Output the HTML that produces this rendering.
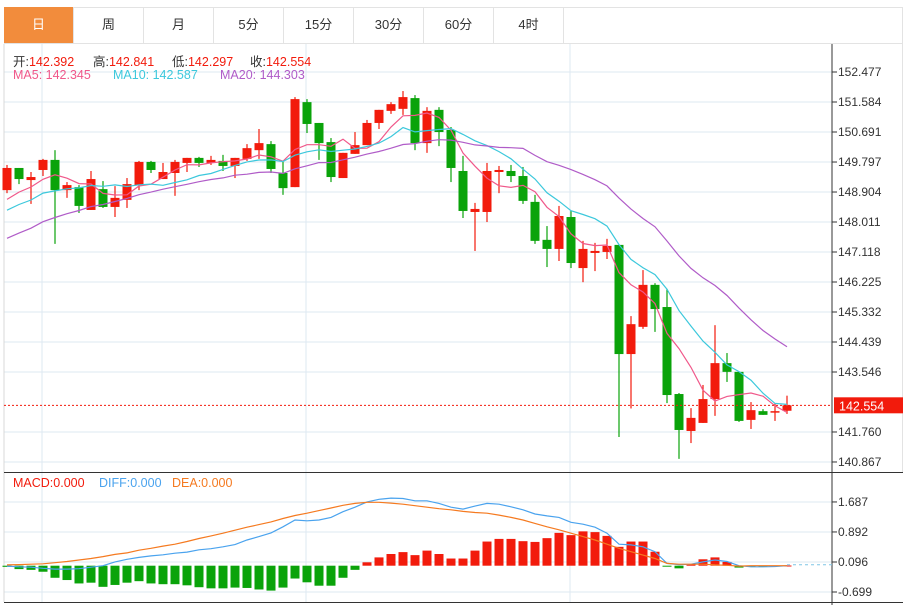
<!DOCTYPE html>
<html><head><meta charset="utf-8">
<style>
body{margin:0;background:#fff;font-family:"Liberation Sans","Noto Sans CJK SC",sans-serif;}
#wrap{position:relative;width:908px;height:605px;overflow:hidden;}
.tab{position:absolute;top:7px;height:36px;width:70px;line-height:36px;text-align:center;font-size:13px;color:#333;border-right:1px solid #e3e3e3;box-sizing:border-box;}
.tab.on{background:#f28c3c;color:#fff;}
.lg{position:absolute;font-size:12.5px;white-space:nowrap;}
</style></head>
<body>
<div id="wrap">
<div style="position:absolute;left:4px;top:7px;width:899px;height:37px;border:1px solid #e3e3e3;box-sizing:border-box;"></div>
<div class="tab on" style="left:4px">日</div>
<div class="tab" style="left:74px">周</div>
<div class="tab" style="left:144px">月</div>
<div class="tab" style="left:214px">5分</div>
<div class="tab" style="left:284px">15分</div>
<div class="tab" style="left:354px">30分</div>
<div class="tab" style="left:424px">60分</div>
<div class="tab" style="left:494px">4时</div>
<svg id="svg" width="908" height="605" style="position:absolute;left:0;top:0"></svg>
</div>
<script>
const opens=[148.96,149.62,149.26,149.56,149.86,148.96,149.05,148.37,148.99,148.46,148.67,149.11,149.80,149.29,149.47,149.77,149.92,149.77,149.83,149.68,149.89,150.15,150.33,149.47,149.05,151.58,150.96,150.39,149.32,150.04,150.30,150.96,151.32,151.38,151.70,150.36,151.35,150.75,149.53,148.31,148.31,149.50,149.53,149.38,148.61,147.48,147.21,148.16,146.64,147.09,147.12,147.33,144.08,144.89,146.14,145.48,142.89,141.79,142.03,142.74,143.81,143.55,142.12,142.38,142.35,142.392];
const highs=[149.71,149.62,149.50,149.89,150.15,149.20,149.11,149.53,149.23,149.08,149.32,149.83,149.83,149.77,149.86,149.92,149.95,149.98,150.01,149.92,150.33,150.78,150.42,149.80,151.73,151.67,150.96,150.51,150.07,150.69,151.05,151.35,151.58,151.91,151.79,151.43,151.43,150.84,149.98,148.58,149.77,149.68,149.71,149.65,148.82,147.89,148.49,148.34,147.45,147.39,147.51,147.33,145.21,146.58,146.19,146.02,142.92,142.47,143.16,144.94,144.11,143.55,142.65,142.44,142.62,142.841];
const lows=[148.87,149.14,148.55,149.38,147.36,148.73,148.28,148.37,148.43,148.16,148.43,148.96,149.47,149.29,148.79,149.50,149.65,149.71,149.53,149.32,149.83,149.89,149.47,148.82,149.05,150.66,149.86,149.20,149.32,150.04,150.30,150.78,151.23,151.20,150.15,150.07,150.27,149.20,148.13,147.15,148.01,148.87,149.20,148.55,147.36,146.67,146.85,146.64,146.22,146.55,146.91,141.61,142.46,144.83,144.74,142.62,140.96,141.43,142.03,142.24,143.25,142.06,141.85,142.27,142.09,142.297];
const closes=[149.62,149.29,149.35,149.86,148.96,149.11,148.49,149.29,148.46,148.73,149.14,149.80,149.56,149.50,149.80,149.92,149.77,149.86,149.68,149.92,150.21,150.36,149.59,149.02,151.67,150.93,150.36,149.35,150.07,150.30,150.96,151.35,151.52,151.73,150.36,151.32,150.69,149.62,148.34,148.40,149.53,149.56,149.38,148.64,147.45,147.21,148.19,146.79,147.21,147.15,147.30,144.08,144.97,146.14,145.42,142.86,141.82,142.18,142.74,143.81,143.55,142.09,142.41,142.27,142.38,142.554];
const priorCloses=[146.2,146.4,146.0,146.5,146.8,146.6,147.0,147.2,146.9,147.3,147.6,148.0,147.8,148.3,148.5,148.2,148.6,148.7,148.3];
const priceTicks=[152.477,151.584,150.691,149.797,148.904,148.011,147.118,146.225,145.332,144.439,143.546,141.760,140.867];
const macdHist=[-0.03,-0.09,-0.11,-0.16,-0.32,-0.38,-0.47,-0.45,-0.56,-0.51,-0.45,-0.41,-0.47,-0.49,-0.49,-0.52,-0.57,-0.60,-0.60,-0.58,-0.59,-0.63,-0.66,-0.58,-0.34,-0.44,-0.53,-0.53,-0.32,-0.11,0.09,0.22,0.31,0.36,0.28,0.40,0.31,0.19,0.19,0.40,0.64,0.71,0.71,0.65,0.63,0.73,0.87,0.81,0.91,0.89,0.79,0.50,0.64,0.64,0.37,-0.01,-0.07,0.04,0.17,0.22,0.10,-0.05,-0.03,-0.02,0.005,0.005];
const diffLine=[-0.01,-0.03,-0.04,-0.07,-0.09,-0.09,-0.08,-0.04,0,0.10,0.17,0.22,0.26,0.29,0.33,0.36,0.42,0.45,0.50,0.56,0.68,0.77,0.87,1.03,1.21,1.19,1.21,1.28,1.43,1.55,1.69,1.76,1.79,1.78,1.72,1.72,1.65,1.55,1.50,1.58,1.65,1.63,1.56,1.48,1.37,1.32,1.28,1.15,1.10,1.02,0.86,0.57,0.55,0.50,0.37,0.06,0.03,0.04,0.10,0.15,0.11,0,-0.03,-0.03,-0.02,0];
const deaLine=[0.02,0.03,0.04,0.05,0.08,0.11,0.15,0.19,0.24,0.30,0.34,0.41,0.46,0.52,0.57,0.64,0.72,0.79,0.86,0.94,1.02,1.09,1.16,1.25,1.33,1.39,1.46,1.53,1.60,1.65,1.68,1.68,1.66,1.63,1.59,1.55,1.51,1.48,1.44,1.41,1.39,1.34,1.28,1.21,1.12,1.03,0.95,0.86,0.77,0.68,0.57,0.46,0.37,0.28,0.19,0.06,0.04,0.04,0.04,0.02,0.01,-0.01,0,0,0,0];
const macdTicks=[1.687,0.892,0.096,-0.699];

const NS='http://www.w3.org/2000/svg';
const svg=document.getElementById('svg');
function mk(tag,attrs,parent){const e=document.createElementNS(NS,tag);for(const k in attrs)e.setAttribute(k,attrs[k]);(parent||svg).appendChild(e);return e;}
const AX=832;
const xAt=i=>7+i*12;
const yP=v=>72+(152.477-v)*33.59;
const yM=v=>565.7-v*37.74;
const RED='#f21b0c',GREEN='#0aa30a';

for(const gx of [42,306,570]){const l=mk('line',{x1:gx,x2:gx,y1:44,y2:602,stroke:'#dde9f2'});}
priceTicks.forEach(t=>{const y=yP(t);
 const g=mk('line',{x1:4,x2:AX,y1:y,y2:y,stroke:'#dde9f2'});
 mk('line',{x1:AX,x2:AX+5,y1:y,y2:y,stroke:'#333'});
 const tx=mk('text',{x:838,y:y+4,'font-size':12,fill:'#333'});tx.textContent=t.toFixed(3);});
macdTicks.forEach(t=>{
 const yy=562-(t-0.096)*37.74;
 const g=mk('line',{x1:4,x2:AX,y1:yy,y2:yy,stroke:'#dde9f2'});
 mk('line',{x1:AX,x2:AX+5,y1:yy,y2:yy,stroke:'#333'});
 const tx=mk('text',{x:838,y:yy+4,'font-size':12,fill:'#333'});tx.textContent=t.toFixed(3);});

mk('line',{x1:4,x2:4,y1:44,y2:602,stroke:'#d8d8d8'});
mk('line',{x1:902.5,x2:902.5,y1:44,y2:472,stroke:'#e3e3e3'});
mk('line',{x1:AX,x2:AX,y1:44,y2:605,stroke:'#333'});
mk('line',{x1:4,x2:903,y1:472.5,y2:472.5,stroke:'#333'});
mk('line',{x1:4,x2:903,y1:602.5,y2:602.5,stroke:'#333'});

for(let i=0;i<closes.length;i++){
 const up=closes[i]>=opens[i];const c=up?RED:GREEN;const x=xAt(i);
 const g=mk('g',{});
 
 
 mk('line',{x1:x,x2:x,y1:yP(highs[i]),y2:yP(lows[i]),stroke:c,'stroke-width':1.2},g);
 const t=yP(Math.max(opens[i],closes[i])),b=yP(Math.min(opens[i],closes[i]));
 mk('rect',{x:x-4.5,y:t,width:9,height:Math.max(1.5,b-t),fill:c},g);
}
const all=priorCloses.concat(closes);const off=priorCloses.length;
function ma(n){const r=[];for(let i=0;i<closes.length;i++){let s=0;const j=i+off;for(let k=j-n+1;k<=j;k++)s+=all[k];r.push(s/n);}return r;}
[[5,'#f0588a','ma5-line'],[10,'#3cc8dc','ma10-line'],[20,'#b05cc8','ma20-line']].forEach(([n,col,name])=>{
 const d=ma(n).map((v,i)=>(i?'L':'M')+xAt(i)+','+yP(v).toFixed(1)).join('');
 const p=mk('path',{d:d,fill:'none',stroke:col,'stroke-width':1.2});});

const lp=closes[closes.length-1];const ly=yP(lp);
mk('line',{x1:4,x2:AX,y1:ly,y2:ly,stroke:RED,'stroke-dasharray':'2,2'});
const tag=mk('rect',{x:834,y:ly-8,width:69,height:16,fill:RED});
const tt=mk('text',{x:839,y:ly+5,'font-size':12.5,fill:'#fff'});tt.textContent=lp.toFixed(3);

const z=yM(0);
macdHist.forEach((v,i)=>{const y=yM(v);const r=mk('rect',{x:xAt(i)-4.5,y:Math.min(y,z),width:9,height:Math.max(1,Math.abs(y-z)),fill:v>=0?RED:GREEN});});
mk('line',{x1:xAt(macdHist.length-1),x2:AX,y1:z-1,y2:z-1,stroke:'#7fc6e6','stroke-dasharray':'3,3'});
[[diffLine,'#4aa3ee','diff-line'],[deaLine,'#f57a20','dea-line']].forEach(([arr,col,name])=>{
 const d=arr.map((v,i)=>(i?'L':'M')+xAt(i)+','+yM(v).toFixed(1)).join('');
 const p=mk('path',{d:d,fill:'none',stroke:col,'stroke-width':1.2});});
</script>
<div class="lg" style="left:13px;top:51px;color:#333">开:<span style="color:#f21b0c">142.392</span></div>
<div class="lg" style="left:93px;top:51px;color:#333">高:<span style="color:#f21b0c">142.841</span></div>
<div class="lg" style="left:172px;top:51px;color:#333">低:<span style="color:#f21b0c">142.297</span></div>
<div class="lg" style="left:250px;top:51px;color:#333">收:<span style="color:#f21b0c">142.554</span></div>
<div class="lg" style="left:13px;top:68px;color:#f0588a">MA5: 142.345</div>
<div class="lg" style="left:113px;top:68px;color:#3cc8dc">MA10: 142.587</div>
<div class="lg" style="left:220px;top:68px;color:#b05cc8">MA20: 144.303</div>
<div class="lg" style="left:13px;top:476px;color:#f21b0c">MACD:0.000</div>
<div class="lg" style="left:99px;top:476px;color:#4aa3ee">DIFF:0.000</div>
<div class="lg" style="left:172px;top:476px;color:#f57a20">DEA:0.000</div>
</body></html>
